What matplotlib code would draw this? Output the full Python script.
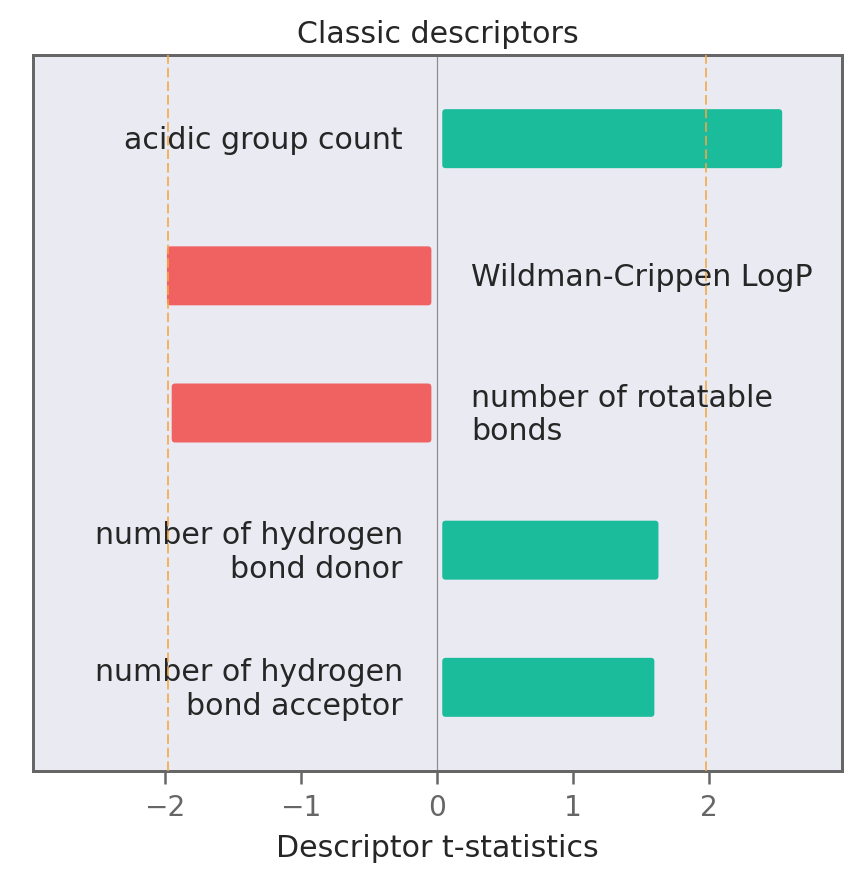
import matplotlib
matplotlib.use("Agg")
import matplotlib.pyplot as plt
from matplotlib.patches import FancyBboxPatch

# descriptor t-statistics, top to bottom
descriptors = [
    "acidic group count",
    "Wildman-Crippen LogP",
    "number of rotatable\nbonds",
    "number of hydrogen\nbond donor",
    "number of hydrogen\nbond acceptor",
]
t_stats = [2.54, -1.985, -1.95, 1.63, 1.60]
xticks = [-2, -1, 0, 1, 2]
critical = 1.98

POS_COLOR = "#1abc9c"
NEG_COLOR = "#f06262"
TEXT_COLOR = "#262626"
AXIS_COLOR = "#666666"

fig = plt.figure(figsize=(859 / 144, 881 / 144), dpi=144)
ax = fig.add_axes([33 / 859, 1 - 771 / 881, (842 - 33) / 859, (771 - 55) / 881])
ax.set_facecolor("#eaeaf2")

n = len(descriptors)
bar_h = 0.43
gap = 0.04
for i, (name, val) in enumerate(zip(descriptors, t_stats)):
    y = n - 1 - i
    start = gap if val > 0 else val
    width = val - gap if val > 0 else -gap - val
    color = POS_COLOR if val > 0 else NEG_COLOR
    patch = FancyBboxPatch((start, y - bar_h / 2), width, bar_h,
                           boxstyle="round,pad=0,rounding_size=0.025",
                           facecolor=color, edgecolor="none", zorder=2)
    ax.add_patch(patch)
    # labels sit a touch below the bar centre
    if val > 0:
        ax.text(-0.25, y - 0.015, name, ha="right", va="center", fontsize=15,
                color=TEXT_COLOR, zorder=1)
    else:
        ax.text(0.25, y - 0.015, name, ha="left", va="center", fontsize=15,
                color=TEXT_COLOR, zorder=1)

ax.axvline(0, color="#8c8c8c", linewidth=0.6, zorder=1.5)
for c in (-critical, critical):
    ax.axvline(c, color="#f5a742", linewidth=0.8, linestyle=(0, (6, 2.5)), zorder=3)

ax.set_xlim(-2.97, 2.98)
ax.set_ylim(-0.61, n - 1 + 0.61)
ax.set_xticks(xticks)
ax.set_yticks([])
ax.tick_params(axis="x", colors=AXIS_COLOR, labelsize=14, length=6.5, width=1.25, pad=5)
for side in ("top", "bottom", "left", "right"):
    ax.spines[side].set_color(AXIS_COLOR)
    ax.spines[side].set_linewidth(1.5)

ax.set_xlabel("Descriptor t-statistics", fontsize=15, color=TEXT_COLOR, labelpad=6)
ax.set_title("Classic descriptors", fontsize=15, color=TEXT_COLOR, pad=6)

fig.savefig("out.png", dpi=144, facecolor="white")
plt.close(fig)
